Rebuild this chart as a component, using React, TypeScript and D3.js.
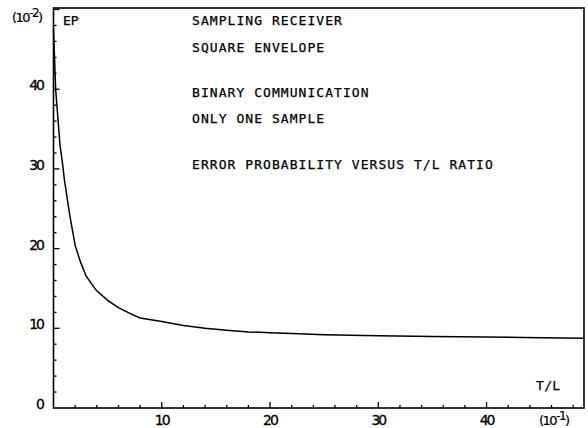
import React from "react";
import * as d3 from "d3";

const tl = [0, 0.2, 0.4, 0.6, 0.86, 1.0, 1.5, 2.0, 2.5, 3.0, 3.5, 4.0, 5.0, 6.0, 7.0, 8.0, 10, 12, 14, 16, 18, 20, 22, 25, 30, 35, 40, 45, 49];
const ep = [47.5, 40, 36.5, 33, 30.4, 28.7, 24.2, 20.4, 18.3, 16.6, 15.6, 14.7, 13.5, 12.6, 11.9, 11.3, 10.85, 10.35, 10.0, 9.75, 9.55, 9.45, 9.35, 9.2, 9.05, 8.97, 8.9, 8.82, 8.75];

const xMajor = [10, 20, 30, 40];
const yMajor = [0, 10, 20, 30, 40];
const xMinor = d3.range(2, 49, 2);
const yMinor = d3.range(2, 50.1, 2);

const textLines = [
  "SAMPLING RECEIVER",
  "SQUARE ENVELOPE",
  "",
  "BINARY COMMUNICATION",
  "ONLY ONE SAMPLE",
  "",
  "ERROR PROBABILITY VERSUS T/L RATIO",
];

export default function App() {
  const W = 588, H = 428;
  const x = d3.scaleLinear().domain([0, 49]).range([53.5, 584]);
  const y = d3.scaleLinear().domain([0, 50]).range([408, 9.5]);
  const top = 8;
  const line = d3.line<number>().x((_, i) => x(tl[i])).y((d) => y(d)).curve(d3.curveLinear);
  const font = "'DejaVu Sans Mono', monospace";
  const numFont = "'DejaVu Sans', sans-serif";
  const lineY = [24.5, 51.5, 0, 96.5, 122.5, 0, 168.5];
  return (
    <svg width={W} height={H} style={{ position: "absolute", left: 0, top: 0, background: "#fff" }}>
      <rect x={0} y={0} width={W} height={H} fill="#fff" />
      {/* frame */}
      <rect x={x(0)} y={top} width={x(49) - x(0)} height={y(0) - top} fill="none" stroke="#000" strokeWidth={1.6} />
      {/* ticks */}
      {xMinor.map((v) => (
        <line key={"xm" + v} x1={x(v)} x2={x(v)} y1={y(0)} y2={y(0) - (v % 10 === 0 ? 6 : 3)} stroke="#000" strokeWidth={1.3} />
      ))}
      {yMinor.map((v) => (
        <line key={"ym" + v} x1={x(0)} x2={x(0) + (v % 10 === 0 ? 6 : 3)} y1={y(v)} y2={y(v)} stroke="#000" strokeWidth={1.3} />
      ))}
      {/* tick labels */}
      {xMajor.map((v) => (
        <text key={"xl" + v} x={x(v)} y={425} textAnchor="middle" fontFamily={numFont} fontSize={14} letterSpacing={-2} fill="#000" stroke="#000" strokeWidth={0.3}>
          {v}
        </text>
      ))}
      {yMajor.map((v) => (
        <text key={"yl" + v} x={43} y={y(v) + 1} textAnchor="end" fontFamily={numFont} fontSize={14} letterSpacing={-2} fill="#000" stroke="#000" strokeWidth={0.3}>
          {v}
        </text>
      ))}
      {/* axis unit labels */}
      <text x={12} y={22} fontFamily={numFont} fontSize={13} letterSpacing={-1.5} fill="#000" stroke="#000" strokeWidth={0.2}>
        (10<tspan dy={-5} fontSize={12}>-2</tspan><tspan dy={5}>)</tspan>
      </text>
      <text x={63} y={24.5} fontFamily={font} fontSize={13} fill="#000" stroke="#000" strokeWidth={0.25}>EP</text>
      <text x={536} y={390} fontFamily={font} fontSize={13} letterSpacing={0.3} fill="#000" stroke="#000" strokeWidth={0.25}>T/L</text>
      <text x={539} y={425} fontFamily={numFont} fontSize={13} letterSpacing={-1.5} fill="#000" stroke="#000" strokeWidth={0.2}>
        (10<tspan dy={-5} fontSize={12}>-1</tspan><tspan dy={5}>)</tspan>
      </text>
      {/* annotation block */}
      {textLines.map((t, i) =>
        t ? (
          <text key={"t" + i} x={192} y={lineY[i]} fontFamily={font} fontSize={13} letterSpacing={1.05} fill="#000" stroke="#000" strokeWidth={0.25}>
            {t}
          </text>
        ) : null
      )}
      {/* curve */}
      <path d={line(ep) || ""} fill="none" stroke="#000" strokeWidth={1.5} />
    </svg>
  );
}
